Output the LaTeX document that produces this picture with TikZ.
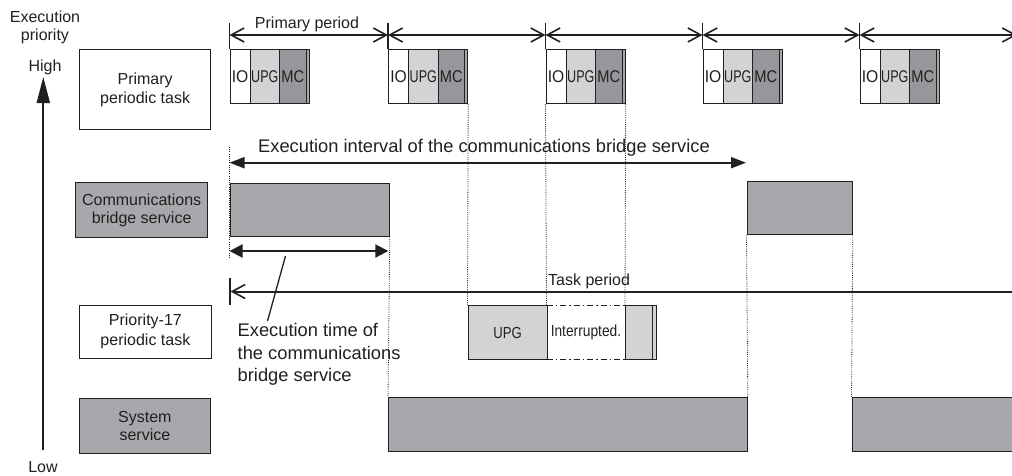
\documentclass[tikz,border=0pt]{standalone}
\usepackage{fontspec}
\setmainfont{Liberation Sans}
\usetikzlibrary{arrows.meta}
\definecolor{ink}{RGB}{35,31,32}
\definecolor{lightg}{RGB}{210,211,213}
\definecolor{darkg}{RGB}{150,151,154}
\definecolor{midg}{RGB}{167,168,171}
\newcommand{\fsA}{\fontsize{16}{19}\selectfont}
\newcommand{\fsB}{\fontsize{18.3}{22.5}\selectfont}
\newcommand{\fsC}{\fontsize{17}{20}\selectfont}
\newcommand{\fsD}{\fontsize{16}{19}\selectfont}
\begin{document}
\begin{tikzpicture}[x=1pt,y=-1pt,
  every node/.style={text=ink},
  lbl/.style={inner sep=0, align=center, font=\fsA},
  rbox/.style={draw=ink, line width=1.3pt, inner sep=0, anchor=north west, align=center, font=\fsA},
  blk/.style={draw=ink, line width=1.2pt, inner sep=0, anchor=north west, minimum height=54, font=\fsC},
  dotline/.style={draw=ink, line width=0.8pt, dash pattern=on 0.9pt off 1.3pt},
  barbs/.style={line width=2pt, draw=ink},
  barbtip/.tip={Straight Barb[length=13pt,width=14pt,line width=1.6pt]},
  filltip/.tip={Triangle[length=15pt,width=11pt]},
  filltipb/.tip={Triangle[length=13pt,width=13pt]},
  dashdot/.style={draw=ink, line width=1pt, dash pattern=on 6pt off 3pt on 1.5pt off 3pt}
]
\useasboundingbox (0,0) rectangle (1012,475);

% priority axis
\node[lbl, font=\fontsize{16}{18}\selectfont] (prio) at (45,27) {Execution\\priority};
\node[lbl] (high) at (45,67) {High};
\node[lbl] (low) at (43,467) {Low};
\coordinate (axlow) at (43.3,450);
\coordinate (axhigh) at (43.3,77);
\draw[line width=2pt, draw=ink, -{Triangle[length=26pt,width=13pt]}] (axlow) -- (axhigh);

% task labels
\node[rbox, fill=white, minimum width=131, minimum height=80] (prim) at (79,49) {Primary\\periodic task};
\node[rbox, fill=midg, minimum width=132, minimum height=55, font=\fontsize{16}{18.5}\selectfont] (comm) at (75,182) {Communications\\bridge service};
\node[rbox, fill=white, minimum width=131.5, minimum height=53, font=\fontsize{16}{20}\selectfont] (p17) at (79,304.5) {Priority-17\\periodic task};
\node[rbox, fill=midg, minimum width=131.5, minimum height=55.5, font=\fontsize{16}{18.7}\selectfont] (sys) at (78.5,397.5) {System\\service};

% primary period blocks
\foreach \px [count=\i] in {229.5,388,545.5,702.5,859.5} {
  \node[blk, fill=white, minimum width=20] (io\i) at (\px,49) {\scalebox{0.92}[1]{IO}};
  \node[blk, fill=lightg, minimum width=29.5] (upg\i) at (\px+20,49) {\scalebox{0.74}[1]{UPG}};
  \node[blk, fill=darkg, minimum width=26.5] (mc\i) at (\px+49.5,49) {\scalebox{0.86}[1]{MC}};
  \node[blk, fill=midg, minimum width=3] (st\i) at (\px+76,49) {};
  \coordinate (tk\i) at (\px,22.5);
  \coordinate (ar\i) at (\px,35);
  \draw[line width=1.3pt, draw=ink] (tk\i) -- (io\i.north west);
}
\coordinate (ar6) at (1017,35);
\foreach \i [evaluate=\i as \j using int(\i+1)] in {1,...,5} {
  \draw[barbs, {barbtip}-{barbtip}] (ar\i) -- (ar\j);
}
\node[lbl] (pp) at (307,24) {Primary period};

% communications bridge service
\node[rbox, fill=midg, minimum width=159, minimum height=53] (cb1) at (229.5,182.5) {};
\node[rbox, fill=midg, minimum width=105, minimum height=53] (cb2) at (746.5,181) {};
\coordinate (ei1) at (229.5,162.7);
\coordinate (ei2) at (746,162.7);
\draw[line width=2pt, draw=ink, {filltip}-{filltip}] (ei1) -- (ei2);
\node[lbl, font=\fsB] (eil) at (484,148) {Execution interval of the communications bridge service};
\coordinate (et1) at (229.5,251);
\coordinate (et2) at (388.3,251);
\draw[line width=2pt, draw=ink, {filltipb}-{filltipb}] (et1) -- (et2);
\node[inner sep=0, align=left, anchor=west, font=\fsB] (etl) at (237.5,354.5) {Execution time of\\the communications\\bridge service};
\coordinate (ld1) at (285.5,256);
\coordinate (ld2) at (267.5,321);
\draw[line width=1.3pt, draw=ink] (ld1) -- (ld2);

% task period
\coordinate (tpa) at (230,278);
\coordinate (tpb) at (230,305);
\draw[line width=1.3pt, draw=ink] (tpa) -- (tpb);
\coordinate (tpl) at (230.5,291.5);
\coordinate (tpr) at (1013,291.5);
\draw[barbs, {barbtip}-] (tpl) -- (tpr);
\node[inner sep=0, anchor=west, font=\fsA] (tpt) at (548,281) {Task period};

% priority-17 task execution
\node[rbox, fill=lightg, minimum width=79, minimum height=54, font=\fsD] (u17) at (467.5,305) {\scalebox{0.82}[1]{UPG}};
\node[inner sep=0, anchor=north west, minimum width=78.5, minimum height=54, font=\fsD] (intr) at (546.5,305) {\scalebox{0.86}[1]{Interrupted.}};
\draw[dashdot] (intr.north west) -- (intr.north east);
\draw[dashdot] (intr.south west) -- (intr.south east);
\node[rbox, fill=lightg, minimum width=30.5, minimum height=54] (rest) at (625,305) {};
\node[rbox, fill=lightg, minimum width=4, minimum height=54] (rst) at (651.7,305) {};

% system service
\node[rbox, fill=midg, minimum width=358.5, minimum height=53.5] (ss1) at (388,397) {};
\node[rbox, fill=midg, minimum width=200, minimum height=53.5] (ss2) at (851.5,397) {};

% dotted guide lines
\coordinate (dA1) at (229.5,147);
\coordinate (dA2) at (229.5,258);
\draw[dotline] (dA1) -- (dA2);
\draw[dotline] (cb1.south east) -- (ss1.north west);
\draw[dotline] (st2.south east) -- (u17.north west);
\draw[dotline] (io3.south west) -- (intr.north west);
\draw[dotline] (st3.south east) -- (rest.north west);
\draw[dotline] (cb2.south west) -- (ss1.north east);
\draw[dotline] (cb2.south east) -- (ss2.north west);
\end{tikzpicture}
\end{document}
